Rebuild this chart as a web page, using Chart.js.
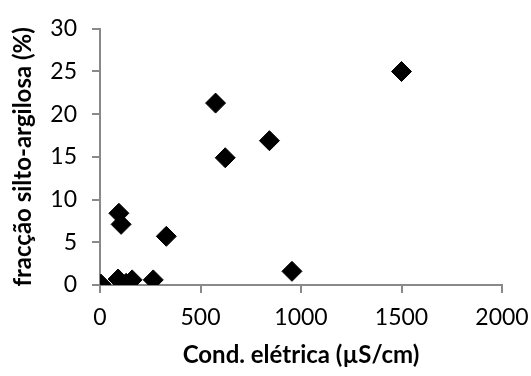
<!DOCTYPE html>
<html>
<head>
<meta charset="utf-8">
<script src="https://cdn.jsdelivr.net/npm/chart.js@4"></script>
<style>
html,body{margin:0;padding:0;background:#fff;}
#wrap{width:531px;height:376px;}
</style>
</head>
<body>
<div id="wrap"><canvas id="c" width="531" height="376"></canvas></div>
<script>
const condEletrica = [5, 90, 130, 160, 265, 94, 105, 330, 955, 575, 623, 843, 1500];
const fraccao      = [0.1, 0.7, 0.2, 0.6, 0.6, 8.4, 7.1, 5.7, 1.6, 21.3, 14.9, 16.9, 25.0];
const xTicks = [0, 500, 1000, 1500, 2000];
const yTicks = [0, 5, 10, 15, 20, 25, 30];
const xTitle = 'Cond. elétrica (µS/cm)';
const yTitle = 'fracção silto-argilosa (%)';

const points = condEletrica.map((x, i) => ({x: x, y: fraccao[i]}));
const FONT = 'Lato, "Open Sans", sans-serif';
const AXIS = '#898989';

new Chart(document.getElementById('c'), {
  type: 'scatter',
  data: {
    datasets: [{
      data: points,
      pointStyle: 'rectRot',
      pointRadius: 10,
      pointHoverRadius: 10,
      backgroundColor: '#000',
      borderColor: '#000',
      borderWidth: 1
    }]
  },
  options: {
    responsive: false,
    animation: false,
    layout: {padding: {left: 2, right: 29, top: 19, bottom: 4}},
    plugins: {legend: {display: false}, tooltip: {enabled: false}},
    scales: {
      x: {
        type: 'linear',
        min: 0, max: 2000,
        afterBuildTicks: s => { s.ticks = xTicks.map(v => ({value: v})); },
        afterFit: s => { s.height = 87; s.paddingRight = 0; s.paddingLeft = 0; },
        grid: {display: true, drawOnChartArea: false, drawTicks: true, tickLength: 8, color: AXIS, lineWidth: 2},
        border: {display: true, color: AXIS, width: 2},
        ticks: {color: '#000', font: {family: FONT, size: 23}, padding: 11, maxRotation: 0, callback: v => String(v)},
        title: {display: true, text: xTitle, color: '#000', font: {family: FONT, size: 24, weight: 'bold'}, padding: {top: 4, bottom: 2}}
      },
      y: {
        type: 'linear',
        min: 0, max: 30,
        afterBuildTicks: s => { s.ticks = yTicks.map(v => ({value: v})); },
        afterFit: s => { s.width = 98; },
        grid: {display: true, drawOnChartArea: false, drawTicks: true, tickLength: 8, color: AXIS, lineWidth: 2},
        border: {display: true, color: AXIS, width: 2},
        ticks: {color: '#000', font: {family: FONT, size: 23}, padding: 15, callback: v => String(v)},
        title: {display: true, text: yTitle, color: '#000', font: {family: FONT, size: 24, weight: 'bold'}, padding: {top: 7, bottom: 4}}
      }
    }
  }
});
</script>
</body>
</html>
